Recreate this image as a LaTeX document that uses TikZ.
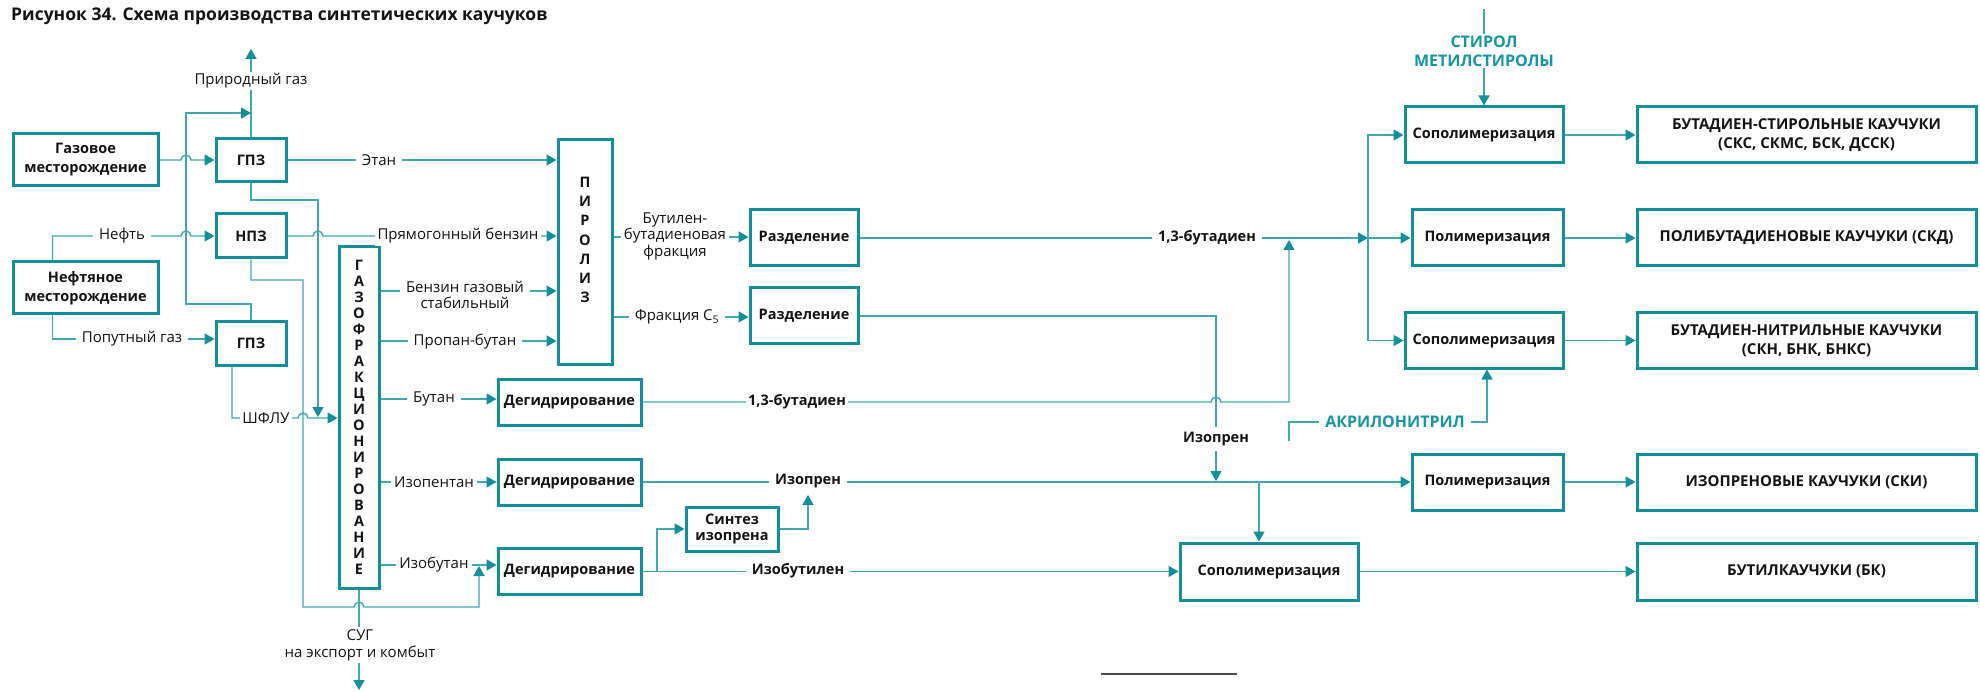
\documentclass[tikz,border=0pt]{standalone}
\usepackage{fontspec}
\setmainfont{Open Sans}
\usetikzlibrary{arrows.meta,calc}
\definecolor{boxc}{HTML}{138E9B}
\definecolor{linec}{HTML}{3FA8B3}
\definecolor{tealt}{HTML}{1596A3}
\definecolor{txt}{HTML}{141414}
\definecolor{rulec}{HTML}{4A4A4A}
\newcommand{\myfs}[2]{\fontsize{#1}{#2}\selectfont}
\begin{document}
\begin{tikzpicture}[x=1pt,y=-1pt,
  box/.style={draw=boxc,line width=3pt,fill=white,inner sep=0pt,align=center,text=txt,font=\bfseries\myfs{14.5}{19}},
  pbox/.style={box,minimum width=339pt,font=\bfseries\myfs{15}{19}},
  ln/.style={draw=linec,line width=1.4pt},
  arr/.style={ln,-{Triangle[length=10pt,width=11pt,color=boxc]}},
  lbl/.style={fill=white,inner xsep=6pt,inner ysep=2pt,text=txt,font=\myfs{15}{16.5},align=center},
  blbl/.style={lbl,font=\bfseries\myfs{14.5}{17}},
  tlbl/.style={lbl,text=tealt,font=\bfseries\myfs{16}{19}}
]
\useasboundingbox (0,0) rectangle (1980,692);

% title
\node[anchor=base west,inner sep=0pt,font=\bfseries\myfs{17.5}{20},text=txt] (title) at (11,21) {Рисунок 34. Схема производства синтетических каучуков};

% boxes
\node[box,minimum width=145pt,minimum height=52pt] (gasfield) at (85.5,160) {Газовое\\месторождение};
\node[box,minimum width=70pt,minimum height=43pt] (gpz1) at (251,160) {ГПЗ};
\node[box,minimum width=70pt,minimum height=44pt] (npz) at (251,236) {НПЗ};
\node[box,minimum width=145pt,minimum height=52pt] (oilfield) at (85.5,288) {Нефтяное\\месторождение};
\node[box,minimum width=70pt,minimum height=43pt] (gpz2) at (251,343.5) {ГПЗ};
\node[box,minimum width=40pt,minimum height=341pt,font=\bfseries\myfs{14.5}{16}] (gfr) at (359,417.5) {Г\\А\\З\\О\\Ф\\Р\\А\\К\\Ц\\И\\О\\Н\\И\\Р\\О\\В\\А\\Н\\И\\Е};
\node[box,minimum width=54pt,minimum height=224pt] (pyro) at (585,252) {};
\node[inner sep=0pt,align=center,text=txt,font=\bfseries\myfs{14.5}{19.2}] (pyrot) at (585,240) {П\\И\\Р\\О\\Л\\И\\З};
\node[box,minimum width=143pt,minimum height=46pt] (deh1) at (569.5,402) {Дегидрирование};
\node[box,minimum width=143pt,minimum height=46pt] (deh2) at (569.5,482) {Дегидрирование};
\node[box,minimum width=143pt,minimum height=46pt] (deh3) at (569.5,571.5) {Дегидрирование};
\node[box,minimum width=108pt,minimum height=56pt] (sep1) at (804,238) {Разделение};
\node[box,minimum width=108pt,minimum height=56pt] (sep2) at (804,316) {Разделение};
\node[box,minimum width=92pt,minimum height=44pt,font=\bfseries\myfs{14.5}{16}] (synth) at (732,529) {Синтез\\изопрена};
\node[box,minimum width=158pt,minimum height=56pt] (copol1) at (1484,135) {Сополимеризация};
\node[box,minimum width=151pt,minimum height=56pt] (pol1) at (1487.5,238) {Полимеризация};
\node[box,minimum width=158pt,minimum height=55pt] (copol2) at (1484,340.5) {Сополимеризация};
\node[box,minimum width=151pt,minimum height=56pt] (pol2) at (1487.5,482) {Полимеризация};
\node[box,minimum width=178pt,minimum height=57pt] (copol3) at (1269,571.5) {Сополимеризация};
\node[pbox,minimum height=56pt] (prod1) at (1806.5,135) {БУТАДИЕН-СТИРОЛЬНЫЕ КАУЧУКИ\\(СКС, СКМС, БСК, ДССК)};
\node[pbox,minimum height=56pt] (prod2) at (1806.5,238) {ПОЛИБУТАДИЕНОВЫЕ КАУЧУКИ (СКД)};
\node[pbox,minimum height=55pt] (prod3) at (1806.5,340.5) {БУТАДИЕН-НИТРИЛЬНЫЕ КАУЧУКИ\\(СКН, БНК, БНКС)};
\node[pbox,minimum height=56pt] (prod4) at (1806.5,482) {ИЗОПРЕНОВЫЕ КАУЧУКИ (СКИ)};
\node[pbox,minimum height=57pt] (prod5) at (1806.5,571.5) {БУТИЛКАУЧУКИ (БК)};

% connectors, left part
\draw[arr] (gpz1.north) -- (gpz1.north |- 0,49);
\draw[arr] (gpz2.north) -- (gpz2.north |- 0,304) -- (186,304) -- (186,113) -- (gpz1.north |- 0,113);
\draw[arr] (gasfield.east) -- (181,160) arc[start angle=180,end angle=0,radius=5pt] -- (gpz1.west);
\draw[arr] (gpz1.east) -- (pyro.west |- gpz1.east);
\draw[arr] (gpz1.south) -- (gpz1.south |- 0,200) -- (318,200) -- (318,417);
\draw[arr] ($(oilfield.north west)+(41,0)$) |- (181,236) arc[start angle=180,end angle=0,radius=5pt] -- (npz.west);
\draw[arr] (npz.east) -- (313,236) arc[start angle=180,end angle=0,radius=5pt] -- (pyro.west |- npz.east);
\draw[arr] (npz.south) |- (303,280) -- (303,607) -- (354,607) arc[start angle=180,end angle=0,radius=5pt] -- (479,607) -- (479,566);
\draw[arr] ($(oilfield.south west)+(41,0)$) |- ($(gpz2.west)+(0,-4.5)$);
\draw[arr] ($(gpz2.south)+(-19,0)$) |- (298,418) arc[start angle=180,end angle=0,radius=5pt] -- (gfr.west |- 0,418);
\draw[arr] (gfr.east |- 0,291) -- (pyro.west |- 0,291);
\draw[arr] (gfr.east |- 0,341) -- (pyro.west |- 0,341);
\draw[arr] (gfr.east |- 0,399) -- (deh1.west |- 0,399);
\draw[arr] (gfr.east |- 0,482) -- (deh2.west |- 0,482);
\draw[arr] (gfr.east |- 0,565) -- (deh3.west |- 0,565);
\draw[arr] (gfr.south) -- (gfr.south |- 0,690);

% middle
\draw[arr] (pyro.east |- 0,237) -- (sep1.west |- 0,237);
\draw[arr] (pyro.east |- 0,317) -- (sep2.west |- 0,317);
\draw[arr] (sep1.east) -- (1368,238);
\draw[arr] (1368,238) -- (pol1.west);
\draw[arr] (1368,238) |- (copol1.west);
\draw[arr] (1368,238) |- (copol2.west);
\draw[arr] (deh1.east) -- (1211,402) arc[start angle=180,end angle=0,radius=5pt] -- (1289,402) -- (1289,240);
\draw[arr] (sep2.east) -| (1216,481);
\draw[arr] (deh2.east) -- (pol2.west);
\draw[arr] (synth.east) -| (808,495);
\draw[arr] (deh3.east) -- (copol3.west);
\draw[arr] (657,571.5) |- (synth.west);
\draw[arr] (1259,482) -- (copol3.north -| 1259,0);
\draw[arr] (copol1.north |- 0,9) -- (copol1.north);
\draw[arr] (1289,441) |- (1487,422) -- (copol2.south -| 1487,0);

% right
\draw[arr] (copol1.east) -- (prod1.west);
\draw[arr] (pol1.east) -- (prod2.west);
\draw[arr] (copol2.east) -- (prod3.west);
\draw[arr] (pol2.east) -- (prod4.west);
\draw[arr] (copol3.east) -- (prod5.west);

\draw[rulec,line width=2pt] (1101,674) -- (1237,674);

% labels
\node[lbl] (l1) at (251,81) {Природный газ};
\node[lbl] (l2) at (379,160) {Этан};
\node[lbl] (l3) at (122,236) {Нефть};
\node[lbl,inner xsep=3pt] (l4) at (458,236) {Прямогонный бензин};
\node[lbl] (l5) at (132,339) {Попутный газ};
\node[lbl,inner xsep=2pt] (l6) at (266,418) {ШФЛУ};
\node[lbl] (l7) at (465,295) {Бензин газовый\\стабильный};
\node[lbl] (l8) at (465,342) {Пропан-бутан};
\node[lbl] (l9) at (434,399) {Бутан};
\node[lbl,inner xsep=3pt] (l10) at (434,482) {Изопентан};
\node[lbl,inner xsep=3pt] (l11) at (434,565) {Изобутан};
\node[lbl,font=\myfs{15}{17}] (l12) at (360,645) {СУГ\\на экспорт и комбыт};
\node[lbl,inner xsep=3pt] (l13) at (675,236) {Бутилен-\\бутадиеновая\\фракция};
\node[lbl] (l14) at (677,317) {Фракция C\textsubscript{5}};
\node[blbl] (l15) at (1207,238) {1,3-бутадиен};
\node[blbl,inner xsep=2pt] (l16) at (797,402) {1,3-бутадиен};
\node[blbl,inner ysep=5pt] (l17) at (1216,439) {Изопрен};
\node[blbl] (l18) at (808,481) {Изопрен};
\node[blbl] (l19) at (798,571) {Изобутилен};
\node[tlbl] (l20) at (1484,51) {СТИРОЛ\\МЕТИЛСТИРОЛЫ};
\node[tlbl] (l21) at (1395,422) {АКРИЛОНИТРИЛ};
\end{tikzpicture}
\end{document}
